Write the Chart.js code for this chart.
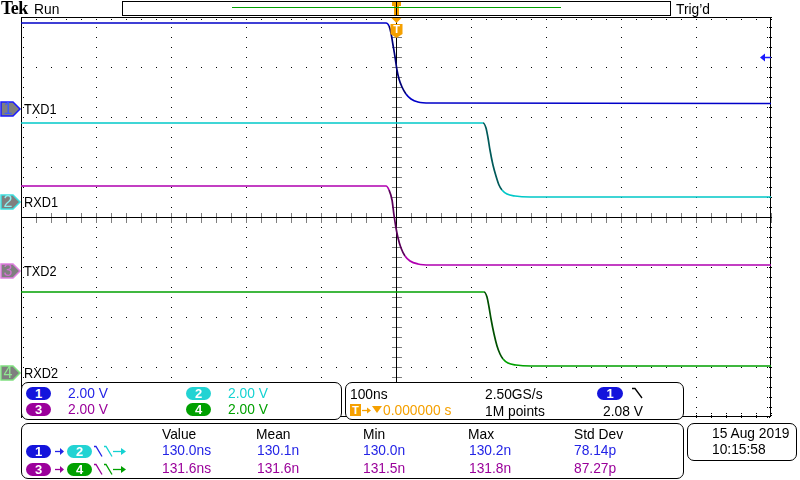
<!DOCTYPE html>
<html>
<head>
<meta charset="utf-8">
<script src="https://cdn.jsdelivr.net/npm/chart.js@4.4.0/dist/chart.umd.min.js"></script>
<style>
  body { margin: 0; background: #fff; }
  #wrap { position: relative; width: 800px; height: 480px; overflow: hidden; font-family: 'Liberation Sans', Arial, sans-serif; }
  #scope { position: absolute; left: 0; top: 0; }
  .box { position: absolute; box-sizing: border-box; border: 1px solid #000; border-radius: 7px; background: #fff; }
  .t { position: absolute; font-size: 15px; line-height: 15px; white-space: nowrap; transform: scaleX(0.92); transform-origin: 0 0; }
  .pill { position: absolute; width: 25px; height: 13px; border-radius: 7px; color: #fff; font-size: 13px; font-weight: bold; line-height: 13px; text-align: center; }
  .ico { position: absolute; }
  .blue { color: #2323e6; } .cyan { color: #14d2d2; } .purple { color: #9a009a; } .green { color: #00a000; } .orange { color: #f5a000; }
</style>
</head>
<body>
<div id="wrap">
  <canvas id="scope" width="800" height="480"></canvas>

  <!-- top status line -->
  <div style="position:absolute;left:1px;top:-1px;font:bold 18px 'Liberation Serif',serif;line-height:18px;letter-spacing:-0.5px;">Tek</div>
  <div class="t" style="left:34px;top:1px;">Run</div>
  <div style="position:absolute;left:122px;top:1px;width:549px;height:15px;box-sizing:border-box;border:1px solid #000;"></div>
  <div style="position:absolute;left:232px;top:7px;width:329px;height:1px;background:#00a000;"></div>
  <div class="t" style="left:676px;top:1px;">Trig’d</div>

  <!-- vertical settings -->
  <div class="box" style="left:21px;top:382px;width:321px;height:38px;"></div>
  <div class="pill" style="left:26px;top:387px;background:#1414dc;">1</div>
  <div class="t blue" style="left:68px;top:385px;">2.00 V</div>
  <div class="pill" style="left:186px;top:387px;background:#22d3d3;">2</div>
  <div class="t cyan" style="left:228px;top:385px;">2.00 V</div>
  <div class="pill" style="left:26px;top:403px;background:#9b009b;">3</div>
  <div class="t purple" style="left:68px;top:401px;">2.00 V</div>
  <div class="pill" style="left:186px;top:403px;background:#00a000;">4</div>
  <div class="t green" style="left:228px;top:401px;">2.00 V</div>

  <!-- horizontal / trigger settings -->
  <div class="box" style="left:345px;top:382px;width:339px;height:38px;"></div>
  <div class="t" style="left:350px;top:386px;">100ns</div>
  <div class="t" style="left:485px;top:386px;">2.50GS/s</div>
  <div class="pill" style="left:597px;top:387px;width:26px;background:#1414dc;">1</div>
  <svg class="ico" style="left:632px;top:387px;" width="12" height="13"><polyline points="0,1.5 3,1.5 10,11" fill="none" stroke="#000" stroke-width="1.3"/></svg>
  <div style="position:absolute;left:350px;top:404px;width:11px;height:12px;background:#f5a000;color:#fff;font:bold 11px 'Liberation Sans';line-height:12px;text-align:center;">T</div>
  <svg class="ico" style="left:361px;top:404px;" width="22" height="12">
    <line x1="1" y1="6.5" x2="7" y2="6.5" stroke="#f5a000" stroke-width="1.3"/>
    <polygon points="6,3.5 10,6.5 6,9.5" fill="#f5a000"/>
    <polygon points="11,2 21,2 16,9" fill="#f5a000"/>
  </svg>
  <div class="t orange" style="left:383px;top:402px;">0.000000 s</div>
  <div class="t" style="left:485px;top:403px;">1M points</div>
  <div class="t" style="left:603px;top:403px;">2.08 V</div>

  <!-- measurements -->
  <div class="box" style="left:21px;top:423px;width:663px;height:56px;"></div>
  <div class="t" style="left:162px;top:426px;">Value</div>
  <div class="t" style="left:256px;top:426px;">Mean</div>
  <div class="t" style="left:363px;top:426px;">Min</div>
  <div class="t" style="left:468px;top:426px;">Max</div>
  <div class="t" style="left:574px;top:426px;">Std Dev</div>

  <div class="pill" style="left:26px;top:445px;background:#1414dc;">1</div>
  <svg class="ico" style="left:54px;top:445px;" width="11" height="12">
    <line x1="1" y1="6.5" x2="7" y2="6.5" stroke="#2323e6" stroke-width="1.3"/>
    <polygon points="6,3 10,6.5 6,10" fill="#2323e6"/>
  </svg>
  <div class="pill" style="left:67px;top:445px;background:#22d3d3;">2</div>
  <svg class="ico" style="left:93px;top:445px;" width="36" height="13">
    <polyline points="1,1.5 3,1.5 9,11.5" fill="none" stroke="#2323e6" stroke-width="1.3"/>
    <polyline points="11,1.5 13,1.5 19,11.5" fill="none" stroke="#14d2d2" stroke-width="1.3"/>
    <line x1="20" y1="6.5" x2="29" y2="6.5" stroke="#14d2d2" stroke-width="1.3"/>
    <polygon points="28,3 33,6.5 28,10" fill="#14d2d2"/>
  </svg>
  <div class="t blue" style="left:162px;top:442px;">130.0ns</div>
  <div class="t blue" style="left:257px;top:442px;">130.1n</div>
  <div class="t blue" style="left:363px;top:442px;">130.0n</div>
  <div class="t blue" style="left:469px;top:442px;">130.2n</div>
  <div class="t blue" style="left:574px;top:442px;">78.14p</div>

  <div class="pill" style="left:26px;top:463px;background:#9b009b;">3</div>
  <svg class="ico" style="left:54px;top:463px;" width="11" height="12">
    <line x1="1" y1="6.5" x2="7" y2="6.5" stroke="#9a009a" stroke-width="1.3"/>
    <polygon points="6,3 10,6.5 6,10" fill="#9a009a"/>
  </svg>
  <div class="pill" style="left:67px;top:463px;background:#00a000;">4</div>
  <svg class="ico" style="left:93px;top:463px;" width="36" height="13">
    <polyline points="1,1.5 3,1.5 9,11.5" fill="none" stroke="#9a009a" stroke-width="1.3"/>
    <polyline points="11,1.5 13,1.5 19,11.5" fill="none" stroke="#00a000" stroke-width="1.3"/>
    <line x1="20" y1="6.5" x2="29" y2="6.5" stroke="#00a000" stroke-width="1.3"/>
    <polygon points="28,3 33,6.5 28,10" fill="#00a000"/>
  </svg>
  <div class="t purple" style="left:162px;top:460px;">131.6ns</div>
  <div class="t purple" style="left:257px;top:460px;">131.6n</div>
  <div class="t purple" style="left:363px;top:460px;">131.5n</div>
  <div class="t purple" style="left:469px;top:460px;">131.8n</div>
  <div class="t purple" style="left:574px;top:460px;">87.27p</div>

  <!-- date -->
  <div class="box" style="left:687px;top:423px;width:110px;height:38px;"></div>
  <div class="t" style="left:712px;top:425px;">15 Aug 2019</div>
  <div class="t" style="left:712px;top:441px;">10:15:58</div>
</div>

<script>
// time in ns (100 ns/div, trigger at centre), levels in divisions (2 V/div)
const txd1Time = [-500, -13.3, -9.3, -6.7, -4, -1.3, 1.3, 4, 8, 13.3, 20, 29.3, 45.3, 500];
const txd1Level = [3.88, 3.88, 3.82, 3.68, 3.44, 3.2, 2.94, 2.76, 2.6, 2.46, 2.36, 2.3, 2.28, 2.27];

const rxd1Time = [-500, 116, 120, 122.7, 125.3, 129.3, 133.3, 137.3, 141.3, 148, 158.7, 178.7, 500];
const rxd1Level = [1.88, 1.88, 1.78, 1.58, 1.34, 1.04, 0.82, 0.64, 0.54, 0.46, 0.42, 0.4, 0.4];

const txd2Time = [-500, -13.3, -9.3, -5.3, -2.7, 0, 2.7, 6.7, 12, 18.7, 29.3, 45.3, 500];
const txd2Level = [0.62, 0.62, 0.54, 0.34, 0.04, -0.22, -0.42, -0.62, -0.78, -0.88, -0.94, -0.96, -0.96];

const rxd2Time = [-500, 117.3, 121.3, 124, 126.7, 130.7, 134.7, 138.7, 142.7, 149.3, 160, 180, 500];
const rxd2Level = [-1.5, -1.5, -1.6, -1.8, -2.04, -2.34, -2.58, -2.74, -2.84, -2.92, -2.96, -2.98, -2.98];

// channel ground markers (divisions) and names
const channelNames = ['TXD1', 'RXD1', 'TXD2', 'RXD2'];
const channelOffsets = [2.16, 0.3, -1.08, -3.12];
const triggerLevel = 3.2; // ch1 at 2.08 V
const triggerTime = 0;

const traceColors = ['#0000c8', '#00c8c8', '#b000b0', '#00a000'];
const edgeColors = ['#000078', '#005a5a', '#5a005a', '#005000'];
const markerEdge = ['#1a1aff', '#3ee0e0', '#e080e0', '#80e080'];
const markerText = ['#3a5aff', '#8af0f0', '#d070d0', '#90e890'];

function toPoints(times, levels) {
  return times.map((t, i) => ({ x: t, y: levels[i] }));
}

function trace(label, times, levels, i) {
  return {
    label,
    data: toPoints(times, levels),
    borderColor: traceColors[i],
    segment: {
      borderColor: (c) => {
        const slope = Math.abs(c.p1.parsed.y - c.p0.parsed.y) / Math.max(1e-6, Math.abs(c.p1.parsed.x - c.p0.parsed.x));
        return slope > 0.02 ? edgeColors[i] : undefined;
      },
    },
  };
}

const scopeDecor = {
  id: 'scopeDecor',
  beforeDatasetsDraw(chart) {
    const { ctx, chartArea: a, scales } = chart;
    const x = scales.x;
    const y = scales.y;
    const cx = Math.round(x.getPixelForValue(0)) + 0.5;
    const cy = Math.round(y.getPixelForValue(0)) + 0.5;
    ctx.save();
    ctx.strokeStyle = '#000';
    ctx.lineWidth = 1;
    ctx.setLineDash([1, 1]);
    ctx.beginPath();
    for (let v = -500; v <= 500; v += 20) {
      const px = Math.round(x.getPixelForValue(v)) + 0.5;
      ctx.moveTo(px, cy - 4);
      ctx.lineTo(px, cy + 5);
      ctx.moveTo(px, a.top);
      ctx.lineTo(px, a.top + 4);
      ctx.moveTo(px, a.bottom - 4);
      ctx.lineTo(px, a.bottom);
    }
    for (let k = -20; k <= 20; k++) {
      const py = Math.round(y.getPixelForValue(k / 5)) + 0.5;
      ctx.moveTo(cx - 4, py);
      ctx.lineTo(cx + 5, py);
      ctx.moveTo(a.left, py);
      ctx.lineTo(a.left + 4, py);
      ctx.moveTo(a.right - 4, py);
      ctx.lineTo(a.right, py);
    }
    ctx.stroke();
    ctx.setLineDash([]);
    ctx.strokeRect(a.left + 0.5, a.top + 0.5, a.width - 1, a.height - 1);
    ctx.restore();
  },
  afterDatasetsDraw(chart) {
    const { ctx, chartArea: a, scales } = chart;
    const x = scales.x;
    const y = scales.y;
    ctx.save();

    // channel markers + names
    channelOffsets.forEach((off, i) => {
      const py = Math.round(y.getPixelForValue(off));
      ctx.beginPath();
      ctx.moveTo(1, py - 7);
      ctx.lineTo(13, py - 7);
      ctx.lineTo(20, py);
      ctx.lineTo(13, py + 7);
      ctx.lineTo(1, py + 7);
      ctx.closePath();
      ctx.fillStyle = '#7f7f7f';
      ctx.fill();
      ctx.strokeStyle = markerEdge[i];
      ctx.lineWidth = 1.5;
      ctx.stroke();
      ctx.fillStyle = markerText[i];
      ctx.font = '16px "Liberation Sans"';
      ctx.textAlign = 'center';
      ctx.textBaseline = 'middle';
      ctx.fillText(String(i + 1), 8, py + 1);

      ctx.save();
      ctx.translate(a.left + 3, py + 1);
      ctx.scale(0.85, 1);
      ctx.fillStyle = '#000';
      ctx.textAlign = 'left';
      ctx.font = '15px "Liberation Sans"';
      ctx.fillText(channelNames[i], 0, 0);
      ctx.restore();
    });

    // trigger level arrow on the right
    const ty = Math.round(y.getPixelForValue(triggerLevel)) + 0.5;
    ctx.fillStyle = '#1a1aff';
    ctx.strokeStyle = '#1a1aff';
    ctx.lineWidth = 1.5;
    ctx.beginPath();
    ctx.moveTo(a.right - 11, ty);
    ctx.lineTo(a.right - 6, ty - 4);
    ctx.lineTo(a.right - 6, ty + 4);
    ctx.closePath();
    ctx.fill();
    ctx.beginPath();
    ctx.moveTo(a.right - 7, ty);
    ctx.lineTo(a.right, ty);
    ctx.stroke();

    // trigger position markers
    const tx = Math.round(x.getPixelForValue(triggerTime)) + 0.5;
    const orange = '#f5a000';
    ctx.fillStyle = orange;
    ctx.fillRect(tx - 4.5, 1, 9, 5);
    ctx.fillRect(tx - 2.5, 6, 5, 9);
    ctx.strokeStyle = '#000';
    ctx.lineWidth = 1;
    ctx.beginPath();
    ctx.moveTo(tx, 2);
    ctx.lineTo(tx, 15);
    ctx.stroke();

    ctx.fillStyle = orange;
    ctx.beginPath();
    ctx.moveTo(tx - 5, a.top + 1);
    ctx.lineTo(tx + 5, a.top + 1);
    ctx.lineTo(tx, a.top + 6);
    ctx.closePath();
    ctx.fill();
    ctx.beginPath();
    ctx.moveTo(tx - 6, a.top + 7);
    ctx.lineTo(tx + 6, a.top + 7);
    ctx.lineTo(tx + 6, a.top + 17);
    ctx.lineTo(tx, a.top + 21);
    ctx.lineTo(tx - 6, a.top + 17);
    ctx.closePath();
    ctx.fill();
    ctx.fillStyle = '#fff';
    ctx.font = 'bold 11px "Liberation Sans"';
    ctx.textAlign = 'center';
    ctx.textBaseline = 'middle';
    ctx.fillText('T', tx, a.top + 13);
    ctx.restore();
  },
};

new Chart(document.getElementById('scope'), {
  type: 'line',
  data: {
    datasets: [
      trace('TXD1', txd1Time, txd1Level, 0),
      trace('RXD1', rxd1Time, rxd1Level, 1),
      trace('TXD2', txd2Time, txd2Level, 2),
      trace('RXD2', rxd2Time, rxd2Level, 3),
    ],
  },
  options: {
    responsive: false,
    animation: false,
    events: [],
    layout: { padding: { left: 21, right: 29, top: 17, bottom: 63 } },
    plugins: {
      legend: { display: false },
      tooltip: { enabled: false },
    },
    elements: {
      point: { radius: 0 },
      line: { borderWidth: 1.7, cubicInterpolationMode: 'monotone' },
    },
    scales: {
      x: {
        type: 'linear',
        min: -500,
        max: 500,
        ticks: { display: false, stepSize: 100 },
        grid: { color: '#000', lineWidth: 1, drawTicks: false },
        border: { display: false, dash: (c) => (c.tick && c.tick.value === 0 ? [] : [1, 9]) },
        afterFit: (s) => { s.height = 0; },
      },
      y: {
        type: 'linear',
        min: -4,
        max: 4,
        ticks: { display: false, stepSize: 1 },
        grid: { color: '#000', lineWidth: 1, drawTicks: false },
        border: { display: false, dash: (c) => (c.tick && c.tick.value === 0 ? [] : [1, 14]) },
        afterFit: (s) => { s.width = 0; },
      },
    },
  },
  plugins: [scopeDecor],
});
</script>
</body>
</html>
